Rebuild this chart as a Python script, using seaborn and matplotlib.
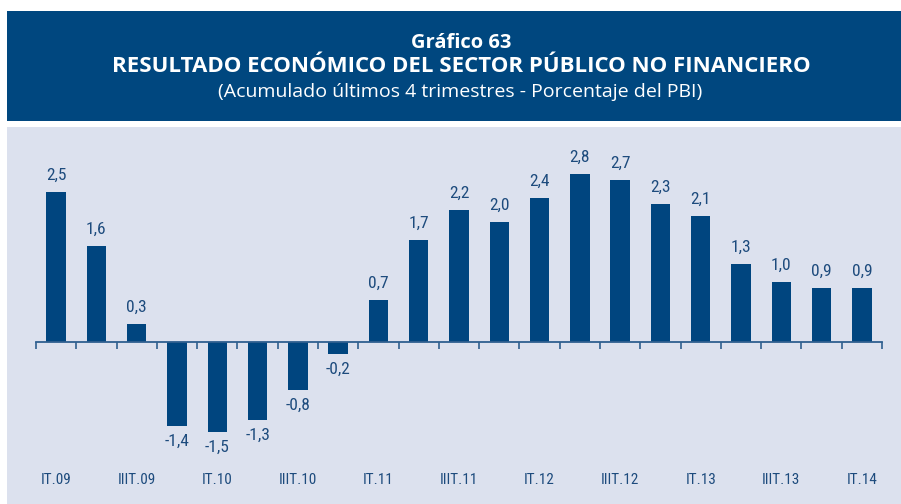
import matplotlib
matplotlib.use("Agg")
import matplotlib.pyplot as plt
from matplotlib import font_manager
from matplotlib.patches import Rectangle
import matplotlib.transforms as mtransforms
import seaborn as sns
import pandas as pd

quarters = ["IT.09", "IIT.09", "IIIT.09", "IVT.09",
            "IT.10", "IIT.10", "IIIT.10", "IVT.10",
            "IT.11", "IIT.11", "IIIT.11", "IVT.11",
            "IT.12", "IIT.12", "IIIT.12", "IVT.12",
            "IT.13", "IIT.13", "IIIT.13", "IVT.13",
            "IT.14"]
values = [2.5, 1.6, 0.3, -1.4, -1.5, -1.3, -0.8, -0.2, 0.7, 1.7, 2.2,
          2.0, 2.4, 2.8, 2.7, 2.3, 2.1, 1.3, 1.0, 0.9, 0.9]

title_1 = "Gráfico 63"
title_2 = "RESULTADO ECONÓMICO DEL SECTOR PÚBLICO NO FINANCIERO"
subtitle = "(Acumulado últimos 4 trimestres - Porcentaje del PBI)"

BAR = "#00457f"
BOX = "#00477f"
PANEL = "#dce1ee"
TEXT = "#1d4b7d"


def pick_narrow_font():
    """Return (family, stretch) for a condensed face if one is installed."""
    fonts = font_manager.fontManager.ttflist
    for wanted in ("Roboto Condensed", "Liberation Sans Narrow", "Open Sans Condensed"):
        for f in fonts:
            if f.name == wanted and f.weight in (400, "normal", "regular"):
                return f.name, "normal"
    for f in fonts:
        if f.name in ("DejaVu Sans", "Noto Sans", "Open Sans", "Roboto") and \
                f.stretch in ("condensed", "semi-condensed") and f.weight in (400, "normal"):
            return f.name, f.stretch
    return "DejaVu Sans", "normal"


narrow, narrow_stretch = pick_narrow_font()

sns.set_theme(style="white")
plt.rcParams["font.family"] = ["Open Sans", "DejaVu Sans"]

W, H = 901, 504
fig = plt.figure(figsize=(W / 100, H / 100), dpi=100)
fig.patch.set_facecolor("white")


def px_rect(x0, y0, x1, y1, color):
    fig.patches.append(Rectangle((x0 / W, 1 - y1 / H), (x1 - x0) / W, (y1 - y0) / H,
                                 transform=fig.transFigure, facecolor=color,
                                 edgecolor="none", zorder=-5))


# title banner and plotting panel
px_rect(7, 11, 901, 121, BOX)
px_rect(7, 127, 901, 504, PANEL)

fig.text(461 / W, 1 - 43 / H, title_1, ha="center", va="center", color="white",
         fontsize=14.5, fontweight="bold")
fig.text(461 / W, 1 - 67 / H, title_2, ha="center", va="center", color="white",
         fontsize=16, fontweight="bold")
fig.text(460 / W, 1 - 92 / H, subtitle, ha="center", va="center", color="white",
         fontsize=14)

# axes: zero line at y=342 px, 60 px per percentage point
ax_left, ax_right = 36, 882
ax_top, ax_bot = 130, 500
ax = fig.add_axes([ax_left / W, 1 - ax_bot / H, (ax_right - ax_left) / W, (ax_bot - ax_top) / H])
ax.set_facecolor("none")
ax.set_zorder(2)

df = pd.DataFrame({"quarter": quarters, "value": values})
sns.barplot(data=df, x="quarter", y="value", color=BAR, saturation=1, width=0.48,
            linewidth=0, ax=ax, zorder=2)

ax.set_xlim(-0.5, len(quarters) - 0.5)
ax.set_ylim(-(ax_bot - 342) / 60, (342 - ax_top) / 60)

for s in ["top", "right", "left"]:
    ax.spines[s].set_visible(False)
ax.spines["bottom"].set_position(("data", 0))
ax.spines["bottom"].set_color("#2f5f8f")
ax.spines["bottom"].set_linewidth(1.3)
ax.spines["bottom"].set_zorder(3)
ax.set_xticks([i - 0.5 for i in range(len(quarters) + 1)])
ax.set_xticklabels([])
ax.tick_params(axis="x", direction="out", length=5, width=1.2, color="#2f5f8f", bottom=True)
ax.set_yticks([])
ax.set_xlabel("")
ax.set_ylabel("")

# value labels: above positive bars, below negative ones
for i, v in enumerate(values):
    label = f"{v:.1f}".replace(".", ",")
    if v >= 0:
        ax.text(i, v + 0.2, label, ha="center", va="baseline", color=TEXT,
                fontsize=12.5, family=narrow, fontstretch=narrow_stretch)
    else:
        ax.text(i, v - 0.13, label, ha="center", va="top", color=TEXT,
                fontsize=12.5, family=narrow, fontstretch=narrow_stretch)

trans = mtransforms.blended_transform_factory(ax.transData, fig.transFigure)
for i in range(0, len(quarters), 2):
    ax.text(i, 1 - 480 / H, quarters[i], transform=trans, ha="center", va="center",
            color=TEXT, fontsize=11, family=narrow, fontstretch=narrow_stretch)

fig.savefig("out.png", dpi=100, facecolor="white")
